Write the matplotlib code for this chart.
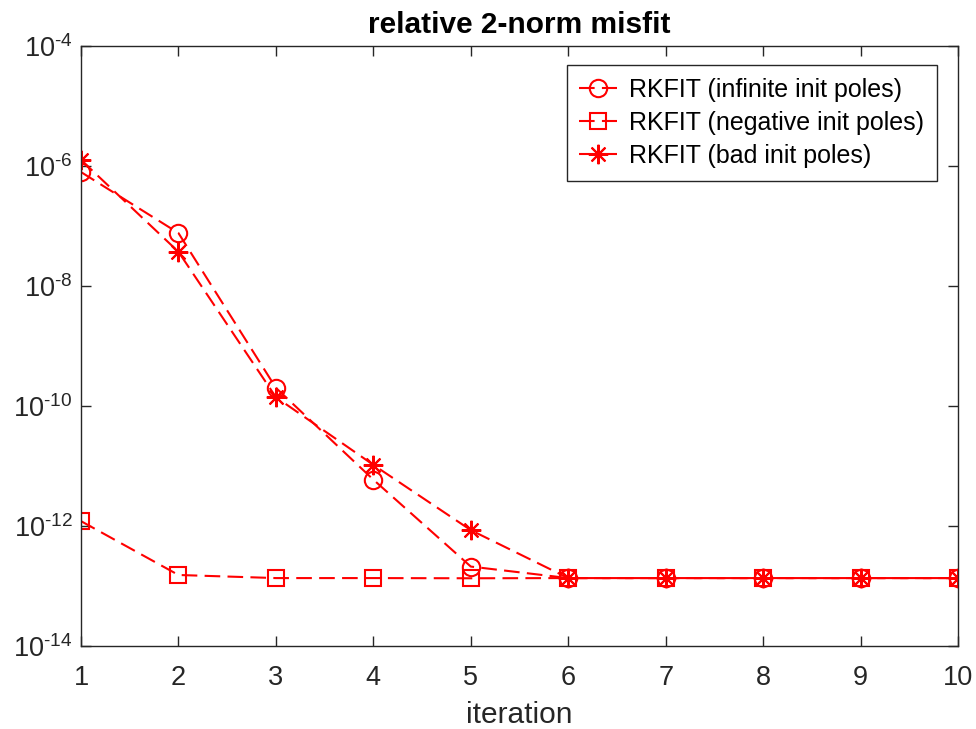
import numpy as np
import matplotlib.pyplot as plt
from matplotlib.ticker import LogLocator, NullLocator, FuncFormatter

plt.rcParams['font.family'] = ['Liberation Sans', 'DejaVu Sans']
plt.rcParams['mathtext.fontset'] = 'custom'
plt.rcParams['mathtext.rm'] = 'Liberation Sans'
plt.rcParams['mathtext.it'] = 'Liberation Sans'
plt.rcParams['mathtext.default'] = 'regular'


# Relative 2-norm misfit per RKFIT iteration

iterations = [1, 2, 3, 4, 5, 6, 7, 8, 9, 10]

misfit_infinite = [7.9e-7, 7.6e-8, 2.0e-10, 5.9e-12, 2.1e-13,
                   1.35e-13, 1.35e-13, 1.35e-13, 1.35e-13, 1.35e-13]
misfit_negative = [1.2e-12, 1.52e-13, 1.35e-13, 1.35e-13, 1.34e-13,
                   1.35e-13, 1.35e-13, 1.35e-13, 1.35e-13, 1.35e-13]
misfit_bad = [1.26e-6, 3.7e-8, 1.4e-10, 1.04e-11, 8.5e-13,
              1.35e-13, 1.35e-13, 1.35e-13, 1.35e-13, 1.35e-13]

labels = [
    "RKFIT (infinite init poles)",
    "RKFIT (negative init poles)",
    "RKFIT (bad init poles)",
]

color = "#ff0000"
edge = "#262626"


def pow10_label(value, pos):
    # exponent written with a plain hyphen
    exponent = int(round(np.log10(value)))
    sign = "\u2010" if exponent < 0 else ""
    return f"$10^{{{sign}{abs(exponent)}}}$"


fig = plt.figure(figsize=(9.76, 7.29), dpi=100)
ax = fig.add_axes([0.083, 0.114, 0.8986, 0.823])

dash = (0, (7.5, 3.5))
lw = 1.5

ax.semilogy(iterations, misfit_infinite, linestyle=dash, color=color,
            marker="o", markersize=12.5, markerfacecolor="none",
            markeredgewidth=lw, linewidth=lw, label=labels[0])
ax.semilogy(iterations, misfit_negative, linestyle=dash, color=color,
            marker="s", markersize=11, markerfacecolor="none",
            markeredgewidth=lw, linewidth=lw, label=labels[1])
ax.semilogy(iterations, misfit_bad, linestyle=dash, color=color,
            marker=(8, 2, 0), markersize=14, markerfacecolor=color,
            markeredgewidth=lw, linewidth=lw, label=labels[2])

ax.set_xlim(1, 10)
ax.set_ylim(1e-14, 1e-4)
ax.set_xticks(iterations)
ax.yaxis.set_major_locator(LogLocator(base=100.0))
ax.yaxis.set_minor_locator(NullLocator())
ax.yaxis.set_major_formatter(FuncFormatter(pow10_label))

ax.tick_params(which="both", direction="in", top=True, right=True,
               length=7, width=1, colors=edge, labelsize=19.5,
               labelcolor="#262626")
ax.tick_params(axis="x", pad=14)
ax.tick_params(axis="y", pad=6)
for s in ax.spines.values():
    s.set_color(edge)
    s.set_linewidth(1)

ax.set_xlabel("iteration", fontsize=21.5, color="#262626", labelpad=7)
ax.set_title("relative 2-norm misfit", fontsize=21.5, fontweight="bold",
             color="black", pad=9)

leg = ax.legend(loc="upper right", bbox_to_anchor=(0.976, 0.968),
                fontsize=18, fancybox=False, framealpha=1,
                edgecolor="#262626", handlelength=1.5, handletextpad=0.5,
                borderpad=0.5, labelspacing=0.37, borderaxespad=0)
leg.get_frame().set_linewidth(1)

plt.savefig("out.png", dpi=100)
